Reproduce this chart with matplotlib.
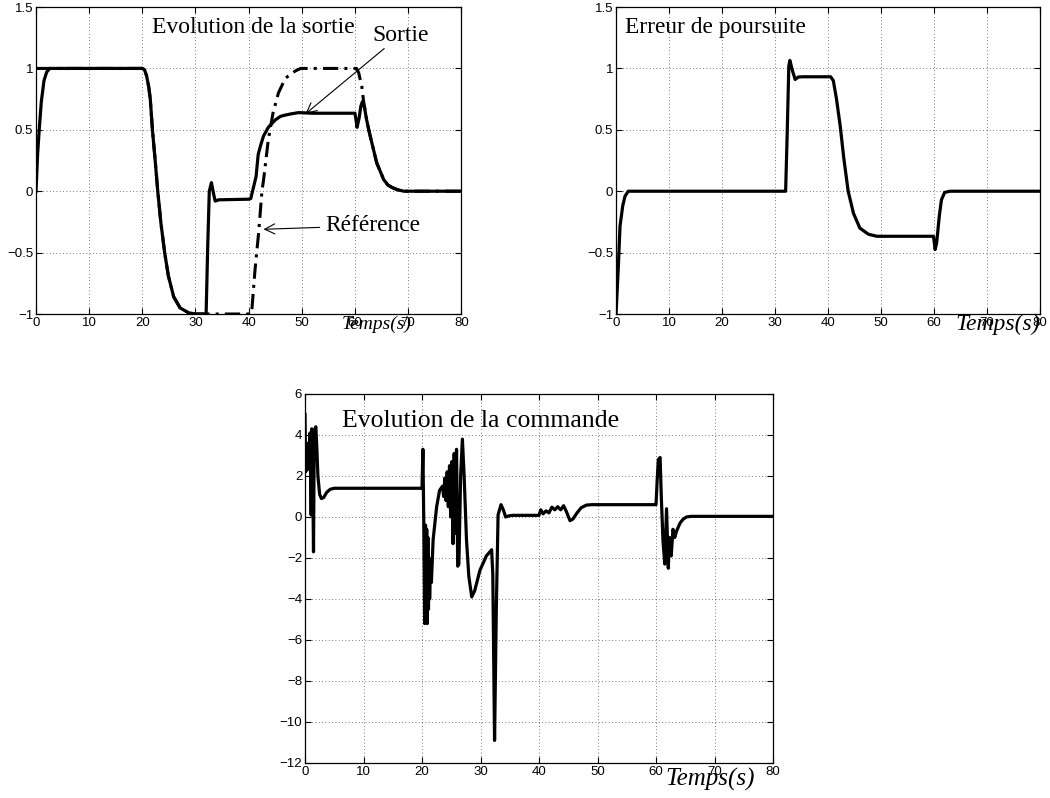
import matplotlib
matplotlib.use("Agg")
import matplotlib.pyplot as plt

# ---- data ----
t_sortie = [0, 0.3, 0.6, 1.0, 1.5, 2.0, 2.6, 3.0, 20.0, 20.4, 20.8, 21.2, 21.5, 21.9, 22.4,
            22.9, 23.5, 24.2, 24.9, 25.9, 27.1, 28.7, 30.0, 32.0, 32.3, 32.6, 33.0, 33.4, 33.7,
            34.4, 40.0, 40.4, 40.9, 41.4, 41.8, 42.3, 42.8, 43.7, 45.0, 46.0, 46.9, 48.0, 49.4,
            52.0, 60.0, 60.2, 60.4, 60.8, 61.1, 61.4, 61.8, 62.2, 62.7, 63.2, 64.1, 65.4, 66.2,
            67.0, 68.0, 69.2, 72.0, 80.0]
y_sortie = [0, 0.3, 0.5, 0.73, 0.9, 0.97, 1.0, 1.0, 1.0, 0.99, 0.94, 0.85, 0.75, 0.5, 0.26,
            0.0, -0.26, -0.5, -0.69, -0.86, -0.95, -0.99, -1.0, -1.0, -0.45, 0.0, 0.07, -0.02, -0.08,
            -0.07, -0.065, -0.06, 0.03, 0.12, 0.3, 0.38, 0.45, 0.52, 0.58, 0.61, 0.62, 0.63, 0.64,
            0.635, 0.635, 0.58, 0.52, 0.6, 0.69, 0.73, 0.68, 0.58, 0.48, 0.39, 0.23, 0.095, 0.05,
            0.03, 0.012, 0.0, 0.0, 0.0]

t_ref = [0, 20.0, 20.4, 20.8, 21.2, 21.5, 21.9, 22.4, 22.9, 23.5, 24.2, 24.9, 25.9, 27.1, 28.7,
         30.0, 32.0, 40.3, 40.6, 41.2, 41.9, 42.5, 42.8, 43.7, 44.6, 45.6, 46.9, 48.8, 49.8,
         60.3, 60.7, 61.3, 61.6, 62.2, 62.7, 63.2, 64.1, 65.4, 66.2, 67.0, 68.0, 69.2, 72.0, 80.0]
y_ref = [1.0, 1.0, 0.99, 0.94, 0.85, 0.75, 0.5, 0.26, 0.0, -0.26, -0.5, -0.69, -0.86, -0.95, -0.99,
         -1.0, -1.0, -1.0, -0.97, -0.64, -0.33, 0.0, 0.09, 0.42, 0.64, 0.80, 0.92, 0.98, 1.0,
         1.0, 0.965, 0.85, 0.74, 0.58, 0.48, 0.39, 0.23, 0.095, 0.05, 0.03, 0.012, 0.0, 0.0, 0.0]

t_err = [0, 0.44, 0.75, 1.26, 1.7, 2.3, 3.0, 32.0, 32.3, 32.6, 32.8, 33.3, 33.8, 34.4, 35.3,
         40.5, 41.0, 41.6, 42.3, 43.0, 43.8, 44.8, 46.0, 47.6, 49.2, 59.9, 60.2, 60.5, 61.0,
         61.4, 62.0, 63.0, 80.0]
y_err = [-1.0, -0.61, -0.285, -0.12, -0.04, 0.0, 0.0, 0.0, 0.48, 1.02, 1.065, 0.98, 0.91, 0.93, 0.932,
         0.932, 0.90, 0.75, 0.53, 0.26, 0.0, -0.18, -0.3, -0.35, -0.367, -0.367, -0.475, -0.42, -0.2,
         -0.07, -0.01, 0.0, 0.0]

t_cmd = [0, 0.1, 0.25, 0.4, 0.55, 0.7, 0.85, 0.95, 1.05, 1.15, 1.3, 1.45, 1.55, 1.7, 1.85, 2.0,
         2.2, 2.5, 2.8, 3.2, 3.7, 4.3, 5.0, 20.0,
         20.15, 20.3, 20.45, 20.6, 20.7, 20.8, 20.9, 21.0, 21.1, 21.2, 21.3, 21.45, 21.6, 21.9,
         22.5, 23.0, 23.5,
         23.7, 23.9, 24.1, 24.3, 24.5, 24.7, 24.9, 25.1, 25.3, 25.5, 25.7, 25.9, 26.1, 26.3,
         26.6, 26.9, 27.2, 27.6, 28.0, 28.5, 29.0, 29.9, 31.0, 31.9, 32.1, 32.4, 32.7, 33.0,
         33.5, 33.9, 34.3, 34.8, 35.5, 40.0,
         40.3, 40.7, 41.2, 41.7, 42.2, 42.7, 43.2, 43.7, 44.2, 44.7, 45.3, 45.8, 46.5, 47.2,
         48.1, 49.0, 60.0,
         60.2, 60.4, 60.7, 60.9, 61.2, 61.5, 61.8, 62.1, 62.3, 62.6, 62.9, 63.2, 63.5, 64.1,
         64.6, 65.2, 66.0, 80.0]
u_cmd = [5.0, 2.2, 3.3, 2.3, 3.6, 2.4, 4.1, 2.6, 0.1, 4.3, 2.5, -1.7, 3.0, 4.3, 4.4, 3.5,
         2.0, 1.1, 0.9, 0.95, 1.2, 1.35, 1.4, 1.4,
         3.3, -0.2, -5.2, -0.4, -5.1, -0.6, -5.2, -1.0, -4.5, -2.0, -4.0, -2.3, -3.2, -1.1,
         0.5, 1.3, 1.5,
         1.0, 1.9, 0.8, 2.2, 0.5, 2.5, 0.0, 2.7, -1.3, 3.1, -0.8, 3.3, -2.4, -2.3,
         2.0, 3.8, 2.0, -1.1, -2.9, -3.9, -3.6, -2.6, -1.9, -1.6, -2.8, -10.9, -4.5, 0.1,
         0.6, 0.35, 0.0, 0.05, 0.08, 0.08,
         0.35, 0.15, 0.3, 0.2, 0.48, 0.35, 0.5, 0.35, 0.55, 0.25, -0.18, -0.1, 0.2, 0.45,
         0.58, 0.6, 0.6,
         1.8, 2.8, 2.9, 1.0, -1.2, -2.3, 0.4, -2.5, -1.0, -1.9, -0.6, -1.0, -0.7, -0.3,
         -0.12, 0.0, 0.03, 0.03]

x_ticks = [0, 10, 20, 30, 40, 50, 60, 70, 80]
y_ticks_top = [-1, -0.5, 0, 0.5, 1, 1.5]
y_labels_top = ["\u22121", "\u22120.5", "0", "0.5", "1", "1.5"]
y_ticks_cmd = [-12, -10, -8, -6, -4, -2, 0, 2, 4, 6]
y_labels_cmd = ["\u221212", "\u221210", "\u22128", "\u22126", "\u22124", "\u22122", "0", "2", "4", "6"]

serif = "Liberation Serif"
sans = "Liberation Sans"


def style_axes(ax, yticks, ylabels, ylim, tsize=9.5):
    ax.set_xlim(0, 80)
    ax.set_ylim(*ylim)
    ax.set_xticks(x_ticks)
    ax.set_xticklabels([str(v) for v in x_ticks], fontfamily=sans, fontsize=tsize)
    ax.set_yticks(yticks)
    ax.set_yticklabels(ylabels, fontfamily=sans, fontsize=tsize)
    ax.tick_params(direction="in", length=4, width=0.8, top=True, right=True, pad=2)
    ax.grid(True, linestyle=(0, (1, 3)), color="black", linewidth=0.6, alpha=0.7)
    for s in ax.spines.values():
        s.set_linewidth(0.9)


fig = plt.figure(figsize=(10.5, 7.98), dpi=100)

# top left: output and reference
ax1 = fig.add_axes([0.0343, 0.6065, 0.405, 0.3847])
ax1.plot(t_ref, y_ref, color="black", linewidth=2.2, linestyle=(0, (5, 2, 1, 2)))
ax1.plot(t_sortie, y_sortie, color="black", linewidth=2.3)
style_axes(ax1, y_ticks_top, y_labels_top, (-1, 1.5))
ax1.text(21.8, 1.33, "Evolution de la sortie", fontfamily=serif, fontsize=17, va="center")
ax1.annotate("Sortie", xy=(50.7, 0.63), xytext=(63.2, 1.27), fontfamily=serif, fontsize=17,
             va="center", arrowprops=dict(arrowstyle="->", color="black", lw=0.8,
                                          shrinkA=0, shrinkB=0, mutation_scale=18),
             annotation_clip=False)
ax1.annotate("Référence", xy=(42.8, -0.31), xytext=(54.4, -0.28), fontfamily=serif,
             fontsize=16.8, va="center",
             arrowprops=dict(arrowstyle="->", color="black", lw=0.8, shrinkA=2, shrinkB=0,
                             mutation_scale=18))
ax1.text(0.80, -0.035, "Temps(s)", transform=ax1.transAxes, fontfamily=serif, style="italic",
         fontsize=14, ha="center", va="center")

# top right: tracking error
ax2 = fig.add_axes([0.5867, 0.6065, 0.4038, 0.3847])
ax2.plot(t_err, y_err, color="black", linewidth=2.3)
style_axes(ax2, y_ticks_top, y_labels_top, (-1, 1.5))
ax2.text(1.7, 1.33, "Erreur de poursuite", fontfamily=serif, fontsize=16.8, va="center")
ax2.text(0.90, -0.035, "Temps(s)", transform=ax2.transAxes, fontfamily=serif, style="italic",
         fontsize=17, ha="center", va="center")

# bottom: control signal
ax3 = fig.add_axes([0.2905, 0.0439, 0.4457, 0.4624])
ax3.plot(t_cmd, u_cmd, color="black", linewidth=2.3)
style_axes(ax3, y_ticks_cmd, y_labels_cmd, (-12, 6))
ax3.text(6.4, 4.66, "Evolution de la commande", fontfamily=serif, fontsize=18.5, va="center")
ax3.text(0.865, -0.045, "Temps(s)", transform=ax3.transAxes, fontfamily=serif, style="italic",
         fontsize=18, ha="center", va="center")

fig.savefig("out.png", dpi=100)
